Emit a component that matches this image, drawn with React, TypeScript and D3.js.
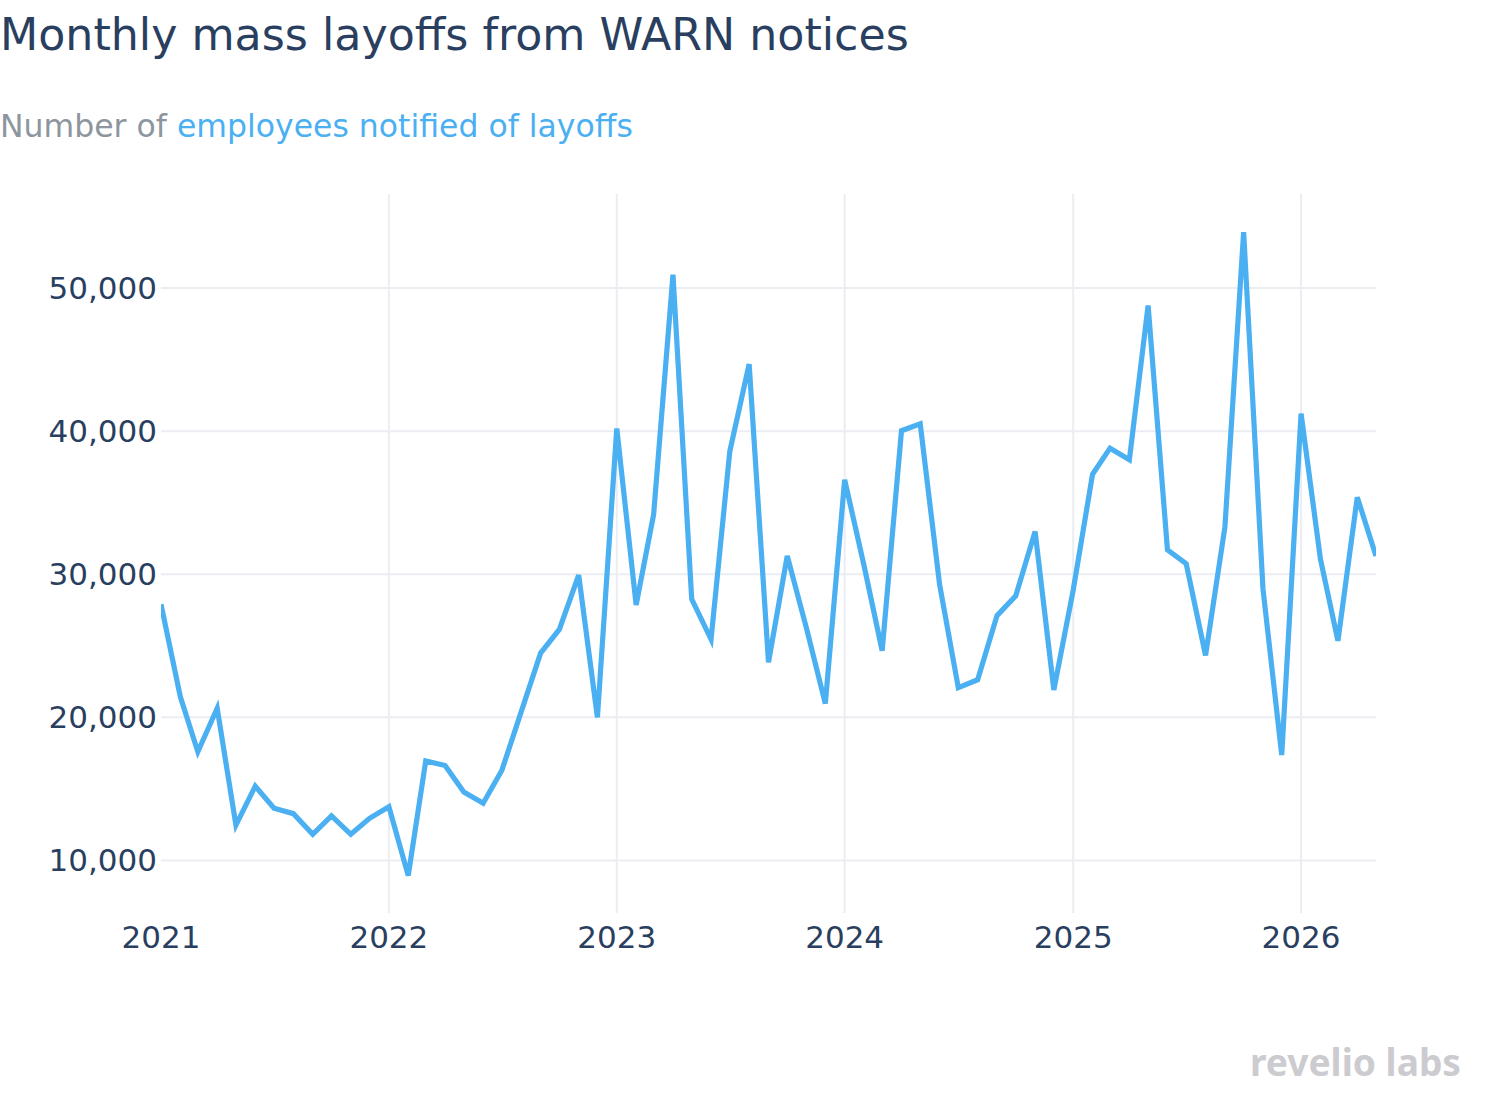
import * as d3 from "d3";

// Monthly employees notified of layoffs, Jan 2021 – May 2026
const startMonth = "2021-01";
const layoffs = [
  // 2021
  27900, 21440, 17600, 20640, 12470, 15190, 13650, 13270, 11830, 13110, 11830, 12950,
  // 2022
  13750, 8940, 16950, 16630, 14780, 14000, 16310, 20400, 24490, 26150, 29940, 20000,
  // 2023
  40190, 27850, 34170, 50930, 28270, 25450, 38590, 44680, 23850, 31280, 26200, 20960,
  // 2024
  36600, 30600, 24650, 40030, 40510, 29290, 22080, 22630, 27110, 28490, 32980, 21920,
  // 2025
  28880, 36990, 38810, 38010, 48780, 31700, 30740, 24330, 33300, 53910, 28970, 17370,
  // 2026
  41220, 31060, 25350, 35380, 31280,
];
const yTicks = [10000, 20000, 30000, 40000, 50000];
const yearTicks = ["2021", "2022", "2023", "2024", "2025", "2026"];

const width = 1490;
const height = 1100;
const plot = { left: 161, right: 1376, top: 194, bottom: 913 };

const textColor = "#2a3f5f";
const lineColor = "#4bb0f2";
const gridColor = "#ebedf2";
const font = "'DejaVu Sans', Verdana, sans-serif";

const parseMonth = d3.timeParse("%Y-%m");
const start = parseMonth(startMonth) as Date;
const points = layoffs.map((v, i) => ({ date: d3.timeMonth.offset(start, i), value: v }));

export default function App() {
  const x = d3
    .scaleTime()
    .domain([points[0].date, points[points.length - 1].date])
    .range([plot.left, plot.right]);

  const y = d3.scaleLinear().domain([6330, 56570]).range([plot.bottom, plot.top]);

  const line = d3
    .line<{ date: Date; value: number }>()
    .x((d) => x(d.date))
    .y((d) => y(d.value))
    .curve(d3.curveLinear);

  const fmt = d3.format(",");

  return (
    <svg
      width={width}
      height={height}
      style={{ position: "absolute", left: 0, top: 0, background: "#fff" }}
      fontFamily={font}
    >
      <defs>
        <clipPath id="plot-clip">
          <rect
            x={plot.left}
            y={plot.top}
            width={plot.right - plot.left}
            height={plot.bottom - plot.top}
          />
        </clipPath>
      </defs>

      <text x={0} y={50} fontSize={44.3} fill={textColor}>
        Monthly mass layoffs from WARN notices
      </text>
      <text x={0} y={137} fontSize={31.5} fill="#8d969e">
        Number of <tspan fill={lineColor}>employees notified of layoffs</tspan>
      </text>

      {/* horizontal grid + y labels */}
      {yTicks.map((t) => (
        <g key={t}>
          <line
            x1={plot.left}
            x2={plot.right}
            y1={y(t)}
            y2={y(t)}
            stroke={gridColor}
            strokeWidth={2}
          />
          <text x={157} y={y(t) + 11} fontSize={31} textAnchor="end" fill={textColor}>
            {fmt(t)}
          </text>
        </g>
      ))}

      {/* vertical grid + year labels */}
      {yearTicks.map((yr, i) => {
        const px = x(parseMonth(`${yr}-01`) as Date);
        return (
          <g key={yr}>
            {i > 0 && (
              <line
                x1={px}
                x2={px}
                y1={plot.top}
                y2={plot.bottom}
                stroke={gridColor}
                strokeWidth={2}
              />
            )}
            <text x={px} y={948} fontSize={31} textAnchor="middle" fill={textColor}>
              {yr}
            </text>
          </g>
        );
      })}

      <g clipPath="url(#plot-clip)">
        <path
          d={line(points) ?? ""}
          fill="none"
          stroke={lineColor}
          strokeWidth={5.2}
          strokeLinejoin="miter"
          strokeMiterlimit={4}
        />
      </g>

      <text
        x={1250}
        y={1076}
        fontSize={37}
        fontWeight={700}
        fill="#cbcbd0"
        textLength={211}
        lengthAdjust="spacingAndGlyphs"
        fontFamily="'Noto Sans', sans-serif"
      >
        revelio labs
      </text>
    </svg>
  );
}
